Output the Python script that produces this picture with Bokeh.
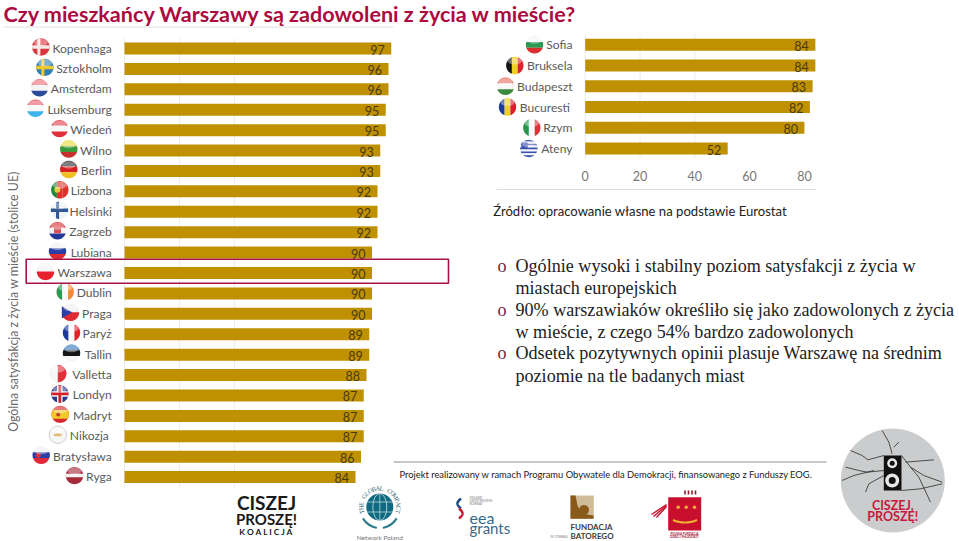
import numpy as np
from bokeh.plotting import figure
from bokeh.models import Range1d
from bokeh.core.properties import value
from bokeh.embed import file_html
from bokeh.resources import INLINE

title = "Czy mieszkańcy Warszawy są zadowoleni z życia w mieście?"
axis_title = "Ogólna satysfakcja z życia w mieście (stolice UE)"
source_note = "Źródło: opracowanie własne na podstawie Eurostat"
footer_note = "Projekt realizowany w ramach Programu Obywatele dla Demokracji, finansowanego z Funduszy EOG."

left_cities = ["Kopenhaga", "Sztokholm", "Amsterdam", "Luksemburg", "Wiedeń", "Wilno", "Berlin", "Lizbona",
               "Helsinki", "Zagrzeb", "Lubiana", "Warszawa", "Dublin", "Praga", "Paryż", "Tallin",
               "Valletta", "Londyn", "Madryt", "Nikozja", "Bratysława", "Ryga"]
left_values = [97, 96, 96, 95, 95, 93, 93, 92, 92, 92, 90, 90, 90, 90, 89, 89, 88, 87, 87, 87, 86, 84]
right_cities = ["Sofia", "Bruksela", "Budapeszt", "Bucuresti", "Rzym", "Ateny"]
right_values = [84, 84, 83, 82, 80, 52]
x_ticks = [0, 20, 40, 60, 80]
grid_ticks = [0, 20, 40]
bullets = [
    ["Ogólnie wysoki i stabilny poziom satysfakcji z życia w", "miastach europejskich"],
    ["90% warszawiaków określiło się jako zadowolonych z życia", "w mieście, z czego 54% bardzo zadowolonych"],
    ["Odsetek pozytywnych opinii plasuje Warszawę na średnim", "poziomie na tle badanych miast"],
]

GOLD = "#bf9000"
LAB = "#5a5a5a"
SANS = value("Lato")
SERIF = value("Liberation Serif")

p = figure(width=959, height=541, x_range=(0, 959), y_range=(541, 0), output_backend="svg",
           toolbar_location=None, x_axis_location=None, y_axis_location=None, min_border=0)
p.styles = {"position": "absolute", "left": "0", "top": "0"}
p.grid.visible = False
p.outline_line_color = None
p.background_fill_color = "white"

# chart scales: value -> pixel, row -> pixel
def add_scale(name, x0, kx, y0, ky):
    p.extra_x_ranges[name] = Range1d(-x0 / kx, (959 - x0) / kx)
    p.extra_y_ranges[name] = Range1d((541 - y0) / ky, -y0 / ky)

add_scale("L", 124.0, 2.75, 48.0, 20.41)
add_scale("R", 584.7, 2.74, 44.3, 20.74)

def txt(x, y, t, size, color="#222222", font=SANS, align="left", base="middle", style="normal", angle=0, alpha=1.0):
    p.text([x], [y], text=[t], text_font=font, text_font_size=f"{size}px", text_color=color, text_align=align,
           text_baseline=base, text_font_style=style, angle=angle, text_alpha=alpha)

# flags -------------------------------------------------------------------
def band_h(cx, cy, r, a, b, color, alpha=1.0):
    a, b = max(a, -1), min(b, 1)
    ys = np.linspace(a, b, 24)
    xs = np.sqrt(np.maximum(1 - ys ** 2, 0))
    px = np.concatenate([xs, -xs[::-1]]) * r + cx
    py = np.concatenate([ys, ys[::-1]]) * r + cy
    p.patch(px, py, fill_color=color, line_color=None, fill_alpha=alpha)

def band_v(cx, cy, r, a, b, color):
    a, b = max(a, -1), min(b, 1)
    xs = np.linspace(a, b, 24)
    ys = np.sqrt(np.maximum(1 - xs ** 2, 0))
    px = np.concatenate([xs, xs[::-1]]) * r + cx
    py = np.concatenate([ys, -ys[::-1]]) * r + cy
    p.patch(px, py, fill_color=color, line_color=None)

def stripes(cx, cy, r, cols, horiz=True):
    n = len(cols)
    f = band_h if horiz else band_v
    for i, c in enumerate(cols):
        f(cx, cy, r, -1 + 2 * i / n, -1 + 2 * (i + 1) / n, c)

def nordic(cx, cy, r, base, cross):
    band_h(cx, cy, r, -1, 1, base)
    band_h(cx, cy, r, -0.2, 0.2, cross)
    band_v(cx, cy, r, -0.4, -0.05, cross)

def draw_flag(kind, cx, cy, r=8.7):
    if kind == "DK": nordic(cx, cy, r, "#d8353d", "#f4e8e8")
    elif kind == "SE": nordic(cx, cy, r, "#2f7fb5", "#f0c82e")
    elif kind == "FI": nordic(cx, cy, r, "#eef2f7", "#33568f")
    elif kind == "NL": stripes(cx, cy, r, ["#e8707a", "#f5f5f5", "#2a4a9a"])
    elif kind == "LU": stripes(cx, cy, r, ["#e8606a", "#f8f8f8", "#3fb4ea"])
    elif kind == "AT": stripes(cx, cy, r, ["#e0404a", "#f8f8f8", "#e0303a"])
    elif kind == "LT": stripes(cx, cy, r, ["#e8d83a", "#3a9a3a", "#c83030"])
    elif kind == "DE": stripes(cx, cy, r, ["#303030", "#d82020", "#f0c020"])
    elif kind == "PT":
        stripes(cx, cy, r, ["#1f8a3a", "#e0302a", "#e0302a"], horiz=False)
        p.scatter([cx - 2.5], [cy], size=6, marker="circle", fill_color="#e8c840", line_color=None)
    elif kind == "HR":
        stripes(cx, cy, r, ["#d83038", "#f5f5f5", "#24389a"])
        p.scatter([cx], [cy - 1], size=7, marker="square", fill_color="#d8505a", line_color=None)
    elif kind == "SI": stripes(cx, cy, r, ["#f2f2f6", "#2a40a8", "#e02a30"])
    elif kind == "PL": stripes(cx, cy, r, ["#f4f4f4", "#e8202c"])
    elif kind == "IE": stripes(cx, cy, r, ["#2a9a50", "#f8f8f8", "#f08a30"], horiz=False)
    elif kind == "CZ":
        stripes(cx, cy, r, ["#f0f0f0", "#e02a30"])
        p.patch([cx - r, cx + 1.5, cx - r], [cy - r * .7, cy, cy + r * .7], fill_color="#2a40a8", line_color=None)
    elif kind == "FR": stripes(cx, cy, r, ["#1c3a9a", "#f8f8f8", "#e0242c"], horiz=False)
    elif kind == "EE": stripes(cx, cy, r, ["#3a7ab8", "#151515", "#f5f5f5"])
    elif kind == "MT": stripes(cx, cy, r, ["#f6f6f6", "#e0303a"], horiz=False)
    elif kind == "GB":
        band_h(cx, cy, r, -1, 1, "#2a3a8a")
        for a, b in [(-.32, .32)]:
            band_h(cx, cy, r, a, b, "#f5f5f5"); band_v(cx, cy, r, a, b, "#f5f5f5")
        band_h(cx, cy, r, -.16, .16, "#d8202c"); band_v(cx, cy, r, -.16, .16, "#d8202c")
    elif kind == "ES":
        band_h(cx, cy, r, -1, 1, "#d8282c"); band_h(cx, cy, r, -.5, .5, "#f0c828")
        p.scatter([cx - 2], [cy], size=4, marker="circle", fill_color="#c04020", line_color=None)
    elif kind == "CY":
        band_h(cx, cy, r, -1, 1, "#f6f6f2")
        p.ellipse([cx], [cy], width=8, height=3, fill_color="#e0b878", line_color=None)
        p.circle([cx], [cy], radius=r, fill_color=None, line_color="#d0d0d0", line_width=1)
    elif kind == "SK":
        stripes(cx, cy, r, ["#eeeef4", "#2a40a8", "#e0283a"])
        p.scatter([cx - 3], [cy], size=5, marker="circle", fill_color="#e03040", line_color=None)
    elif kind == "LV":
        band_h(cx, cy, r, -1, 1, "#a52a3a"); band_h(cx, cy, r, -.2, .2, "#f5f5f5")
    elif kind == "BG": stripes(cx, cy, r, ["#f5f5f5", "#2a9a50", "#d83030"])
    elif kind == "BE": stripes(cx, cy, r, ["#151515", "#f0d020", "#e0202c"], horiz=False)
    elif kind == "HU": stripes(cx, cy, r, ["#e87060", "#f8f8f8", "#3a8a40"])
    elif kind == "RO": stripes(cx, cy, r, ["#1c3a9a", "#f0d020", "#d8202c"], horiz=False)
    elif kind == "IT": stripes(cx, cy, r, ["#28964a", "#f8f8f8", "#e0303a"], horiz=False)
    elif kind == "GR":
        stripes(cx, cy, r, ["#3a50b0", "#f4f4f8"] * 4 + ["#3a50b0"])
        p.patch([cx - r * .85, cx - 1, cx - 1, cx - r * .85], [cy - r * .7, cy - r * .7, cy, cy],
                fill_color="#3a50b0", line_color=None)
    # gloss
    p.ellipse([cx], [cy - r * .52], width=r * 1.62, height=r * .82, fill_color="white", fill_alpha=.38, line_color=None)

left_flags = ["DK", "SE", "NL", "LU", "AT", "LT", "DE", "PT", "FI", "HR", "SI", "PL", "IE", "CZ", "FR", "EE",
              "MT", "GB", "ES", "CY", "SK", "LV"]
left_flag_x = [40.3, 44.3, 39, 35, 59, 68.3, 68.3, 59.3, 59, 57, 57, 45, 64.7, 70, 71, 71, 57.3, 59.3, 59.7, 57.3, 40.7, 74]
right_flags = ["BG", "BE", "HU", "RO", "IT", "GR"]
right_flag_x = [534, 514.3, 505, 507, 531.3, 528.3]
left_label_right = [111.3] * 19 + [108.3, 111.3, 111.3]
right_label_right = [572, 572, 572, 569.5, 572, 572]

# gridlines
rows_l = list(range(len(left_cities)))
rows_r = list(range(len(right_cities)))
p.segment(grid_ticks, [-.5] * 3, grid_ticks, [len(rows_l) - .5] * 3, x_range_name="L", y_range_name="L",
          line_color="#ececec", line_width=1)
p.segment(grid_ticks, [-.5] * 3, grid_ticks, [len(rows_r) - .5] * 3, x_range_name="R", y_range_name="R",
          line_color="#ececec", line_width=1)

# bars
p.hbar(y=rows_l, left=0, right=left_values, height=12 / 20.41, fill_color=GOLD, line_color=None,
       x_range_name="L", y_range_name="L")
p.hbar(y=rows_r, left=0, right=right_values, height=12 / 20.74, fill_color=GOLD, line_color=None,
       x_range_name="R", y_range_name="R")
p.text(left_values, rows_l, text=[str(v) for v in left_values], x_offset=-6.5, y_offset=1, text_align="right",
       text_baseline="middle", text_font=SANS, text_font_size="12.5px", text_color="#4a3a10",
       x_range_name="L", y_range_name="L")
p.text(right_values, rows_r, text=[str(v) for v in right_values], x_offset=-6.5, y_offset=1, text_align="right",
       text_baseline="middle", text_font=SANS, text_font_size="12.5px", text_color="#4a3a10",
       x_range_name="R", y_range_name="R")

# city labels and flags
p.text(left_label_right, [48 + 20.41 * i - .5 for i in rows_l], text=left_cities, text_align="right",
       text_baseline="middle", text_font=SANS, text_font_size="12.1px", text_color=LAB)
p.text(right_label_right, [44.3 + 20.74 * i for i in rows_r], text=right_cities, text_align="right",
       text_baseline="middle", text_font=SANS, text_font_size="12.1px", text_color=LAB)
for i, (k, x) in enumerate(zip(left_flags, left_flag_x)):
    draw_flag(k, x, 46.5 + 20.41 * i)
for i, (k, x) in enumerate(zip(right_flags, right_flag_x)):
    draw_flag(k, x, 44.3 + 20.74 * i)

# right chart tick labels and rule
p.text(x_ticks, [6.33] * 5, text=[str(t) for t in x_ticks], text_align="center", text_baseline="middle",
       text_font=SANS, text_font_size="12.5px", text_color="#777777", x_range_name="R", y_range_name="R")
p.line([496, 816], [189, 189], line_color="#dcdcdc", line_width=1)

# title, highlight, notes
txt(3, 13.5, title, 21.6, color="#ab0a3e", style="bold")
p.line([3, 393], [26.5, 26.5], line_color="#e0e0e0", line_width=1)
p.quad(left=[25.7], right=[448], top=[258.7], bottom=[282.7], fill_color=None, line_color="#a81448", line_width=1.6)
txt(13, 301, axis_title, 12.4, color="#6a6a6a", align="center", angle=np.pi / 2)
txt(492.7, 210.7, source_note, 13.1, color="#222222")

# bullet list
ly = [265, 287, 309, 331, 352.5, 375]
i = 0
for b in bullets:
    txt(497, ly[i], "o", 18.1, color="#7a1f3a", font=SERIF)
    for line in b:
        txt(515, ly[i], line, 18.1, color="#222222", font=SERIF)
        i += 1

# footer
p.line([393, 826], [461.5, 461.5], line_color="#909090", line_width=1.2)
txt(399, 474, footer_note, 9.35, color="#222222")

# Ciszej logo
txt(266, 501.5, "CISZEJ", 19, color="#1a1a1a", style="bold", align="center")
txt(266, 518, "PROSZĘ!", 15, color="#1a1a1a", style="bold", align="center")
txt(266, 531.5, "K O A L I C J A", 8.4, color="#1a1a1a", style="bold", align="center")

# Global Compact logo
gx, gy = 379.3, 506.5
p.circle([gx], [gy], radius=13.5, fill_color="#0e6a80", line_color=None)
p.ellipse([gx], [gy], width=14, height=27, fill_color=None, line_color="#cfe3e8", line_width=.8)
p.line([gx - 13, gx + 13], [gy - 5, gy - 5], line_color="#cfe3e8", line_width=.7)
p.line([gx - 13, gx + 13], [gy + 5, gy + 5], line_color="#cfe3e8", line_width=.7)
p.line([gx, gx], [gy - 13.5, gy + 13.5], line_color="#cfe3e8", line_width=.7)
ring = "THE GLOBAL COMPACT"
for j, ch in enumerate(ring):
    a = np.radians(-105 + 210 * j / (len(ring) - 1))
    p.text([gx + 19 * np.sin(a)], [gy - 19 * np.cos(a)], text=[ch], angle=-a, text_align="center",
           text_baseline="middle", text_font=SERIF, text_font_size="6.5px", text_color="#3a6a78")
for sgn in (-1, 1):
    t = np.linspace(.15, 1.0, 12)
    p.line(gx + sgn * 20 * np.sin(t), gy + 21 * np.cos(t), line_color="#2a7a8a", line_width=2.2)
txt(gx, 537, "Network Poland", 6.5, color="#777777", align="center")

# EEA logo
t = np.linspace(0, 1, 30)
p.line(459.5 + 3.5 * np.sin(t * 3.14) * -1 + 1, 498 + 10 * t, line_color="#204a80", line_width=2.6)
p.line(459.5 + 3.5 * np.sin(t * 3.14) * 1 - 1, 508 + 10 * t, line_color="#c8203a", line_width=2.6)
for yy, s in zip([497, 500, 503], ["ICELAND", "LIECHTENSTEIN", "NORWAY"]):
    txt(469, yy, s, 3, color="#777777")
txt(469, 516.5, "eea", 16, color="#3a6a88")
txt(469, 527.5, "grants", 15, color="#3a6a88")

# Batory logo
p.quad(left=[570], right=[593.3], top=[495], bottom=[518.3], fill_color="#d0bc98", line_color=None)
p.patch([570, 575, 577, 581, 593, 593, 570], [495, 495, 505, 513, 515, 518.3, 518.3], fill_color="#8a5a1a", line_color=None)
p.circle([583.5], [509.5], radius=5, fill_color="#8a5a1a", line_color=None)
txt(570, 526.7, "FUNDACJA", 8, color="#3a3a3a", style="bold")
txt(570, 535.7, "BATOREGO", 8, color="#3a3a3a", style="bold")
txt(550, 536, "IM. STEFANA", 2.8, color="#777777")

# PFDiM logo
p.quad(left=[667.7], right=[700.7], top=[496.7], bottom=[530], fill_color="#c8102e", line_color=None)
p.scatter([677.7, 685.7, 694], [506.7] * 3, size=3.5, marker="circle", fill_color="#f0b030", line_color=None)
t = np.linspace(-1, 1, 20)
p.line(684.5 + 12 * t, 522 + 2.5 * (1 - t ** 2) - 2.5, line_color="#f0b030", line_width=2.2)
p.segment([684.5, 688, 691.5, 695], [490] * 4, [684.5, 688, 691.5, 695], [494] * 4, line_color="#8a1a2a", line_width=1.6)
p.segment([651, 653, 656], [514, 516, 517], [666, 666, 666], [504, 505, 506], line_color="#c8102e", line_width=1.4)
txt(684, 533, "POLSKA FUNDACJA", 3, color="#a01030", style="bold", align="center")
txt(684, 536.5, "DZIECI I MŁODZIEŻY", 3, color="#a01030", style="bold", align="center")

# Disc logo
p.circle([892.3], [480], radius=52, fill_color="#cbcccd", line_color=None)
cracks = [
    [(60, 90), (95, 105), (112, 118), (160, 105)],
    [(45, 140), (85, 150), (110, 155), (160, 150)],
    [(35, 180), (70, 165), (130, 150)],
    [(105, 215), (115, 190), (160, 165)],
    [(155, 30), (175, 65), (185, 100)],
    [(205, 65), (190, 80)],
    [(213, 105), (240, 140), (265, 170), (300, 245)],
    [(225, 125), (310, 118)],
    [(240, 140), (280, 165), (335, 185)],
    [(213, 210), (270, 205), (335, 190)],
]
for c in cracks:
    p.line([830 + a / 3 for a, _ in c], [420 + b / 3 for _, b in c], line_color="#2a2a2a", line_width=.8)
p.quad(left=[883.3], right=[901], top=[455], bottom=[490], fill_color="#111111", line_color=None)
for yy, rr in [(462.7, 5), (480, 7)]:
    p.circle([891.7], [yy], radius=rr, fill_color="#e8e8e8", line_color=None)
    p.circle([891.7], [yy], radius=rr * .5, fill_color="#111111", line_color=None)
txt(892.3, 505, "CISZEJ,", 12.5, color="#c8193c", style="bold", align="center")
txt(892.3, 515.5, "PROSZĘ!", 12.5, color="#c8193c", style="bold", align="center")

open("out.html", "w").write(file_html(p, INLINE))
